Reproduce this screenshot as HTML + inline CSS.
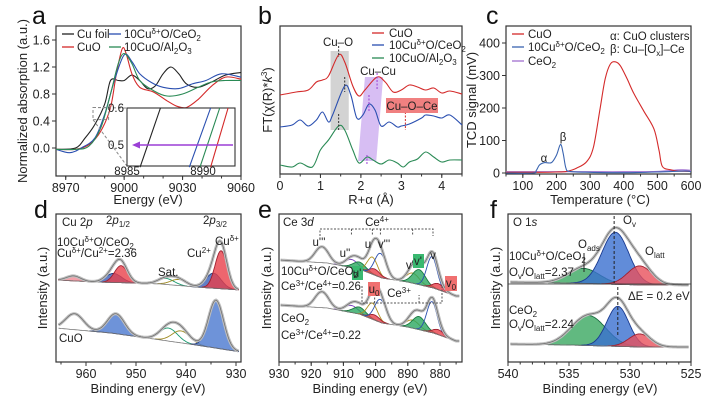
<!DOCTYPE html>
<html><head><meta charset="utf-8"><style>
html,body{margin:0;padding:0;background:#fff;}
svg{display:block;font-family:"Liberation Sans",Arial,sans-serif;}
.tk{font-size:12.5px;fill:#222;}
.ttl{font-size:13px;fill:#222;}
.lg{font-size:11.5px;fill:#222;}
.an{font-size:11.5px;fill:#222;}
.let{font-size:25px;fill:#111;}
</style></head><body>
<svg id="fig" width="708" height="403" viewBox="0 0 708 403">
<text class="let" x="32" y="24">a</text>
<text class="let" x="258" y="24">b</text>
<text class="let" x="486" y="24">c</text>
<text class="let" x="34" y="218">d</text>
<text class="let" x="258" y="218">e</text>
<text class="let" x="490" y="218">f</text>
<text class="ttl" transform="translate(27,101) rotate(-90)" text-anchor="middle">Normalized absorption (a.u.)</text>
<text class="ttl" x="148" y="204" text-anchor="middle">Energy (eV)</text>
<text class="ttl" transform="translate(272,100) rotate(-90)" text-anchor="middle">FT(χ(R)*<tspan font-style="italic">k</tspan><tspan font-size="8" dy="-5">3</tspan><tspan dy="5">)</tspan></text>
<text class="ttl" x="371" y="204" text-anchor="middle">R+α (Å)</text>
<text class="ttl" transform="translate(476,100) rotate(-90)" text-anchor="middle">TCD signal (mV)</text>
<text class="ttl" x="600" y="204" text-anchor="middle">Temperature (°C)</text>
<text class="ttl" transform="translate(47,288) rotate(-90)" text-anchor="middle">Intensity (a.u.)</text>
<text class="ttl" x="148" y="393" text-anchor="middle">Binding energy (eV)</text>
<text class="ttl" transform="translate(271,288) rotate(-90)" text-anchor="middle">Intensity (a.u.)</text>
<text class="ttl" x="370" y="393" text-anchor="middle">Binding energy (eV)</text>
<text class="ttl" transform="translate(500,288) rotate(-90)" text-anchor="middle">Intensity (a.u.)</text>
<text class="ttl" x="600" y="393" text-anchor="middle">Binding energy (eV)</text>
</svg>
<script>
// ---------- data ----------
const aCuFoilE=[8965,8975,8980,8985,8990,8993,8997,9000,9004,9008,9012,9016,9020,9024,9028,9032,9038,9045,9052,9060];
const aCuFoilV=[-0.02,0.0,0.15,0.35,0.65,1.0,1.0,1.0,1.08,1.0,0.88,0.92,1.1,1.2,1.1,0.95,0.9,0.98,1.08,1.12];
const aCuOE=[8965,8975,8982,8988,8993,8996,8999,9001,9004,9008,9015,9022,9027,9032,9038,9045,9052,9060];
const aCuOV=[-0.02,-0.02,0.05,0.25,0.6,1.1,1.47,1.4,1.1,0.9,0.83,0.7,0.62,0.6,0.72,0.92,1.05,1.02];
const aCeE=[8965,8972,8978,8985,8990,8995,9000,9004,9008,9014,9020,9028,9035,9042,9050,9060];
const aCeV=[-0.02,-0.07,0.0,0.15,0.5,1.0,1.38,1.28,1.1,0.97,0.9,0.88,0.95,1.0,1.1,1.05];
const aAlE=[8965,8975,8982,8988,8993,8997,9000,9004,9008,9015,9022,9030,9038,9045,9052,9060];
const aAlV=[-0.02,-0.02,0.03,0.3,0.8,1.25,1.4,1.25,1.0,0.85,0.77,0.8,0.9,0.98,1.0,1.0];
const aTicks=[0.0,0.4,0.8,1.2,1.6];
const aXTicks=[8970,9000,9030,9060];
const insetE0=[8985.86,8989.1,8989.8,8990.5];
const insetE1=[8987.2,8990.5,8991.1,8991.65];
const bR1=[0,0.4,0.7,0.9,1.05,1.2,1.45,1.6,1.8,1.95,2.1,2.4,2.6,2.8,3.0,3.2,3.4,3.6,3.8,4.0,4.2,4.5];
const bCuO=[79,82,84,92,94,98,119,112,88,78,84,97,92,82,84,89,87,84,86,81,83,80];
const bR2=[0,0.3,0.5,0.7,0.9,1.05,1.2,1.3,1.6,1.75,1.9,2.05,2.2,2.35,2.5,2.7,2.9,3.0,3.2,3.5,3.6,3.8,4.0,4.2,4.5];
const bCe=[47,49,54,48,54,62,52,59,88,79,56,59,70,64,48,52,47,48,50,56,59,58,56,59,49];
const bR3=[0,0.3,0.5,0.8,1.0,1.2,1.45,1.6,1.8,1.95,2.15,2.3,2.5,2.7,2.9,3.05,3.2,3.4,3.6,3.8,4.0,4.2,4.5];
const bAl=[9,7,11,7,24,34,48,44,24,11,17,14,10,14,11,7,12,15,22,17,12,14,14];
const bXTicks=[0,1,2,3,4];
const cCuOT=[50,150,200,230,260,290,310,330,345,360,375,390,410,430,460,490,505,515,540,560,600];
const cCuOV=[2,2,3,5,15,35,80,200,290,335,342,330,290,245,190,135,70,20,10,6,5];
const cCeT=[50,130,140,150,165,185,200,212,220,228,240,300,400,500,580,600];
const cCeV=[0,0,8,25,32,32,55,88,60,15,5,2,1,3,6,4];
const cPT=[50,200,300,400,500,570,600];
const cPV=[4,4,4,4,5,10,8];
const cXTicks=[100,200,300,400,500,600];
const cYTicks=[0,100,200,300,400];
const dTopBgE=[966,958,950,945,938,929];
const dTopBgV=[82,80,79,78,75,72];
const dTopC=[962.5,954.5,953,944,941.5,934.5,933];
const dTopH=[5,9,17,6,6,15,38];
const dTopW=[1.4,1.6,1.3,1.6,1.6,1.5,1.2];
const dBotBgE=[966,955,945,938,929];
const dBotBgV=[34,29,22,17,10];
const dBotC=[962.3,954,943.5,941,934];
const dBotH=[16,20,13,12,48];
const dBotW=[1.8,1.7,1.8,1.8,1.5];
const dXTicks=[960,950,940,930];
const eTopBgE=[930,915,905,898,890,882,875];
const eTopBgV=[102,99,93,84,80,74,66];
const eBotBgV=[57,54,48,39,35,29,21];
const eC=[916.7,907.5,905,901,900.3,898.5,888.5,886.5,882.5,880.5];
const eTopH=[16,8,7,17,6,24,10,15,31,6];
const eBotH=[16,7,7,16,5,23,8,13,31,5];
const eW=[2.1,2.0,2.0,1.6,1.7,1.8,2.0,2.0,1.6,1.7];
const eXTicks=[930,920,910,900,890,880];
const fBgE=[540,535,532,529,525];
const fTopBgV=[80,79,78,77,77];
const fBotBgV=[18,17,16,15,15];
const fTopC=[533.8,531.2,529.2];
const fTopH=[15,52,19];
const fTopW=[1.3,1.1,1.0];
const fBotC=[533.4,531.0,529.2];
const fBotH=[30,40,13];
const fBotW=[1.4,0.9,0.9];
const fXTicks=[540,535,530,525];

// ---------- helpers ----------
const NS='http://www.w3.org/2000/svg';
const svg=document.getElementById('fig');
function mk(tag,attrs,txt){const e=document.createElementNS(NS,tag);for(const k in attrs)e.setAttribute(k,attrs[k]);if(txt!==undefined)e.textContent=txt;svg.appendChild(e);return e;}
function lin(d0,d1,r0,r1){return v=>r0+(v-d0)*(r1-r0)/(d1-d0);}
function smooth(pts){let d='M'+pts[0][0].toFixed(1)+','+pts[0][1].toFixed(1);
 for(let i=0;i<pts.length-1;i++){const p0=pts[i-1]||pts[i],p1=pts[i],p2=pts[i+1],p3=pts[i+2]||p2;
  const c1=[p1[0]+(p2[0]-p0[0])/6,p1[1]+(p2[1]-p0[1])/6],c2=[p2[0]-(p3[0]-p1[0])/6,p2[1]-(p3[1]-p1[1])/6];
  d+='C'+c1[0].toFixed(1)+','+c1[1].toFixed(1)+' '+c2[0].toFixed(1)+','+c2[1].toFixed(1)+' '+p2[0].toFixed(1)+','+p2[1].toFixed(1);}
 return d;}
function curve(xs,ys,sx,sy){return smooth(xs.map((x,i)=>[sx(x),sy(ys[i])]));}
function interp(xs,ys,x){for(let i=0;i<xs.length-1;i++){const a=xs[i],b=xs[i+1];if((x-a)*(x-b)<=0){return ys[i]+(ys[i+1]-ys[i])*(x-a)/(b-a);}}return x<Math.min(xs[0],xs[xs.length-1])?ys[xs[0]<xs[1]?0:ys.length-1]:ys[xs[0]<xs[1]?ys.length-1:0];}
function gauss(E,c,h,w){return h*Math.exp(-(E-c)*(E-c)/(2*w*w));}
function frame(name,x0,y0,x1,y1){const r=mk('rect',{x:x0,y:y0,width:x1-x0,height:y1-y0,fill:'none',stroke:'#333','stroke-width':1.2});
 
 }
function xticks(name,vals,sx,y1,minorStep,lo,hi){vals.forEach(v=>{const x=sx(v);const t=mk('line',{x1:x,x2:x,y1:y1,y2:y1+4,stroke:'#333'});
  
  
  const l=mk('text',{x:x,y:y1+16,'text-anchor':'middle',class:'tk'},String(v));
  
  });
 if(minorStep){for(let v=lo;v<=hi+1e-9;v+=minorStep){const x=sx(v);const m=mk('line',{x1:x,x2:x,y1:y1,y2:y1+2.5,stroke:'#333'});
  
  }}}
function yticks(name,vals,sy,x0,fmt){vals.forEach(v=>{const y=sy(v);const t=mk('line',{x1:x0-4,x2:x0,y1:y,y2:y,stroke:'#333'});
  
  
  const l=mk('text',{x:x0-6,y:y+4.5,'text-anchor':'end',class:'tk'},fmt(v));
  
  });}
function series(name,xs,ys,sx,sy,color,w){const p=mk('path',{d:curve(xs,ys,sx,sy),fill:'none',stroke:color,'stroke-width':w||1.1});
 
 return p;}
function txt(name,x,y,s,attrs){const t=mk('text',Object.assign({x:x,y:y,class:'an'},attrs||{}));t.innerHTML=s;
 
 return t;}
function legLine(name,x,y,color){const l=mk('line',{x1:x,x2:x+12,y1:y,y2:y,stroke:color,'stroke-width':1.3});
 
 }
function spectrum(name,E0,E1,bgE,bgV,C,H,W,fills,strokes,sx,sy,step){
 const Es=[];for(let E=E0;E>=E1-1e-9;E-=step)Es.push(E);
 C.forEach((c,i)=>{const top=[],bot=[];Es.forEach(E=>{const b=interp(bgE,bgV,E);const g=gauss(E,c,H[i],W[i]);if(g>0.15){top.push([sx(E),sy(b+g)]);bot.push([sx(E),sy(b)]);}});
  if(top.length<2)return;
  let d='M'+top.map(p=>p[0].toFixed(1)+','+p[1].toFixed(1)).join('L');
  if(fills[i]!=='none'){d+='L'+bot.reverse().map(p=>p[0].toFixed(1)+','+p[1].toFixed(1)).join('L')+'Z';}
  const p=mk('path',{d:d,fill:fills[i],'fill-opacity':0.8,stroke:strokes[i],'stroke-width':0.9});
  
  });
 const bgp=mk('path',{d:'M'+Es.map(E=>sx(E).toFixed(1)+','+sy(interp(bgE,bgV,E)).toFixed(1)).join('L'),fill:'none',stroke:'#777','stroke-width':0.8});
 
 
 const env=Es.map(E=>{let v=interp(bgE,bgV,E);C.forEach((c,i)=>v+=gauss(E,c,H[i],W[i]));return [sx(E),sy(v)];});
 const ed='M'+env.map(p=>p[0].toFixed(1)+','+p[1].toFixed(1)).join('L');
 const e1=mk('path',{d:ed,fill:'none',stroke:'#bdbdbd','stroke-width':3});
 
 
 const e2=mk('path',{d:ed,fill:'none',stroke:'#6a6a6a','stroke-width':0.7});
 
 }

// ---------- panel a ----------
{const sx=lin(8965,9060,56,241),sy=lin(0,1.6,148,40);
 frame('plot-frame-a',56,26,241,176);
 xticks('x-axis-a',aXTicks,sx,176,10,8970,9060);
 yticks('y-axis-a',aTicks,sy,56,v=>v.toFixed(1));
 series('cu-foil-line',aCuFoilE,aCuFoilV,sx,sy,'#222');
 series('cuo-line',aCuOE,aCuOV,sx,sy,'#d42a2a');
 series('cu-ceo2-line',aCeE,aCeV,sx,sy,'#2a4fb0');
 series('cuo-al2o3-line',aAlE,aAlV,sx,sy,'#2a8a55');
 const zr=mk('rect',{x:sx(8984),y:sy(0.6),width:sx(8992)-sx(8984),height:sy(0.42)-sy(0.6),fill:'none',stroke:'#888','stroke-dasharray':'3,2'});
 
 
 const z1=mk('line',{x1:sx(8984),y1:sy(0.6),x2:127,y2:108,stroke:'#888','stroke-dasharray':'3,2'});
 
 
 const z2=mk('line',{x1:sx(8984),y1:sy(0.42),x2:127,y2:166,stroke:'#888','stroke-dasharray':'3,2'});
 
 
 const ix=lin(8985,8990,127,203),iy=lin(0.5,0.6,145,108);
 const ib=mk('rect',{x:127,y:108,width:108,height:58,fill:'#fff',stroke:'#333','stroke-width':1.1});
 
 
 const icol=['#222','#2a4fb0','#2a8a55','#d42a2a'];
 insetE0.forEach((e0,i)=>{const l=mk('line',{x1:ix(e0),y1:iy(0.44),x2:ix(insetE1[i]),y2:iy(0.6),stroke:icol[i],'stroke-width':1.1});
  
  });
 const ar=mk('line',{x1:233,y1:iy(0.5),x2:137,y2:iy(0.5),stroke:'#9b3fd6','stroke-width':1.6});
 
 
 const ah=mk('polygon',{points:'132,'+iy(0.5)+' 140,'+(iy(0.5)-3.5)+' 140,'+(iy(0.5)+3.5),fill:'#9b3fd6'});
 
 
 txt('inset-y-label',124,112,'0.6',{'text-anchor':'end'});
 txt('inset-y-label',124,149,'0.5',{'text-anchor':'end'});
 txt('inset-x-label',127,175,'8985',{'text-anchor':'middle'});
 txt('inset-x-label',203,175,'8990',{'text-anchor':'middle'});
 legLine('legend-swatch-cu-foil',62,34,'#222');txt('legend-cu-foil',77,38,'Cu foil');
 legLine('legend-swatch-cuo',62,47,'#d42a2a');txt('legend-cuo',77,51,'CuO');
 legLine('legend-swatch-cu-ceo2',109,34,'#2a4fb0');txt('legend-cu-ceo2',124,38,'10Cu<tspan font-size="8" dy="-4">δ+</tspan><tspan dy="4">O/CeO</tspan><tspan font-size="8" dy="3">2</tspan>');
 legLine('legend-swatch-cuo-al2o3',109,47,'#2a8a55');txt('legend-cuo-al2o3',124,51,'10CuO/Al<tspan font-size="8" dy="3">2</tspan><tspan dy="-3">O</tspan><tspan font-size="8" dy="3">3</tspan>');
}
// ---------- panel b ----------
{const sx=lin(0,4.5,280,462),sy=v=>174-v;
 const gb=mk('rect',{x:sx(1.25),y:51,width:sx(1.7)-sx(1.25),height:79,fill:'#c8c8c8','fill-opacity':0.8});
 
 
 const pb=mk('polygon',{points:sx(2.1)+',77 '+sx(2.55)+',77 '+sx(2.38)+',161 '+sx(1.93)+',161',fill:'#c9a8ef','fill-opacity':0.75});
 
 
 frame('plot-frame-b',280,26,462,174);
 xticks('x-axis-b',bXTicks,sx,174,0.5,0,4.5);
 series('cuo-ft-line',bR1,bCuO,sx,sy,'#d42a2a');
 series('cu-ceo2-ft-line',bR2,bCe,sx,sy,'#2a4fb0');
 series('cuo-al2o3-ft-line',bR3,bAl,sx,sy,'#2a8a55');
 const dl=[[1.45,46,57,'#333'],[1.6,77,92,'#333'],[1.45,114,130,'#333'],[2.4,73,90,'#9b3fd6'],[2.2,95,112,'#9b3fd6'],[2.15,155,165,'#9b3fd6'],[3.1,112,130,'#d42a2a']];
 dl.forEach(d=>{const l=mk('line',{x1:sx(d[0]),x2:sx(d[0]),y1:d[1],y2:d[2],stroke:d[3],'stroke-dasharray':'2,1.5'});
  
  });
 const rb=mk('rect',{x:386,y:98,width:52,height:15,fill:'#f08080'});
 
 
 txt('cu-o-ce-label',412,110,'Cu–O–Ce',{'text-anchor':'middle'});
 txt('cu-o-label',338,46,'Cu–O',{'text-anchor':'middle'});
 txt('cu-cu-label',378,75,'Cu–Cu',{'text-anchor':'middle',fill:'#9b3fd6'});
 legLine('legend-swatch-b-cuo',372,33,'#d42a2a');txt('legend-b-cuo',389,37,'CuO');
 legLine('legend-swatch-b-cu-ceo2',372,45,'#2a4fb0');txt('legend-b-cu-ceo2',389,49,'10Cu<tspan font-size="8" dy="-4">δ+</tspan><tspan dy="4">O/CeO</tspan><tspan font-size="8" dy="3">2</tspan>');
 legLine('legend-swatch-b-cuo-al2o3',372,58,'#2a8a55');txt('legend-b-cuo-al2o3',389,62,'10CuO/Al<tspan font-size="8" dy="3">2</tspan><tspan dy="-3">O</tspan><tspan font-size="8" dy="3">3</tspan>');
}
// ---------- panel c ----------
{const sx=lin(50,600,506,691),sy=lin(0,400,173,43);
 frame('plot-frame-c',506,26,691,174);
 xticks('x-axis-c',cXTicks,sx,174,50,50,600);
 yticks('y-axis-c',cYTicks,sy,506,v=>String(v));
 series('ceo2-tpr-line',cPT,cPV,sx,sy,'#a070d0');
 series('cuo-tpr-line',cCuOT,cCuOV,sx,sy,'#d42a2a');
 series('cu-ceo2-tpr-line',cCeT,cCeV,sx,sy,'#3a64b0');
 txt('alpha-label',544,162,'α',{'text-anchor':'middle'});
 txt('beta-label',563,141,'β',{'text-anchor':'middle'});
 legLine('legend-swatch-c-cuo',512,34,'#d42a2a');txt('legend-c-cuo',528,38,'CuO');
 legLine('legend-swatch-c-cu-ceo2',512,47,'#3a64b0');txt('legend-c-cu-ceo2',528,51,'10Cu<tspan font-size="8" dy="-4">δ+</tspan><tspan dy="4">O/CeO</tspan><tspan font-size="8" dy="3">2</tspan>');
 legLine('legend-swatch-c-ceo2',512,61,'#a070d0');txt('legend-c-ceo2',528,65,'CeO<tspan font-size="8" dy="3">2</tspan>');
 txt('alpha-definition',610,40,'α: CuO clusters');
 txt('beta-definition',610,53,'β: Cu–[O<tspan font-size="8" dy="3">x</tspan><tspan dy="-3">]–Ce</tspan>');
}
// ---------- panel d ----------
{const sx=lin(966,929,56,241),sy=v=>362-v;
 spectrum('d-cu-ceo2',965.5,929.5,dTopBgE,dTopBgV,dTopC,dTopH,dTopW,['#f08a95','#3a5fb8','#e8404a','none','none','#3a5fb8','#e8404a'],['#b04050','#203a80','#a02030','#1a9a70','#a08a20','#203a80','#a02030'],sx,sy,0.25);
 spectrum('d-cuo',965.5,929.5,dBotBgE,dBotBgV,dBotC,dBotH,dBotW,['none','#4a78d0','none','none','#4a78d0'],['#444','#203a80','#1a9a70','#a08a20','#203a80'],sx,sy,0.25);
 frame('plot-frame-d',56,214,241,362);
 xticks('x-axis-d',dXTicks,sx,362,5,930,965);
 txt('cu2p-label',62,226,'Cu 2<tspan font-style="italic">p</tspan>');
 txt('2p12-label',106,224,'2<tspan font-style="italic">p</tspan><tspan font-size="8" dy="3">1/2</tspan>');
 txt('2p32-label',203,224,'2<tspan font-style="italic">p</tspan><tspan font-size="8" dy="3">3/2</tspan>');
 txt('d-sample-label',57,246,'10Cu<tspan font-size="8" dy="-4">δ+</tspan><tspan dy="4">O/CeO</tspan><tspan font-size="8" dy="3">2</tspan>');
 txt('d-ratio-label',57,257,'Cu<tspan font-size="8" dy="-4">δ+</tspan><tspan dy="4">/Cu</tspan><tspan font-size="8" dy="-4">2+</tspan><tspan dy="4">=2.36</tspan>');
 txt('sat-label',158,276,'Sat.');
 txt('cu2plus-label',187,257,'Cu<tspan font-size="8" dy="-4">2+</tspan>');
 txt('cudelta-label',215,245,'Cu<tspan font-size="8" dy="-4">δ+</tspan>');
 txt('d-cuo-label',59,342,'CuO');
}
// ---------- panel e ----------
{const sx=lin(930,880,279,440),sy=v=>362-v;
 const fl=['none','none','#2aa860','none','#e8404a','none','none','#2aa860','none','#e8404a'];
 const st=['#888','#7a3fc0','#1a7a40','#b09020','#a02030','#2a4fb0','#b09020','#1a7a40','#2a4fb0','#a02030'];
 spectrum('e-cu-ceo2',929.5,874,eTopBgE,eTopBgV,eC,eTopH,eW,fl,st,sx,sy,0.25);
 spectrum('e-ceo2',929.5,874,eTopBgE,eBotBgV,eC,eBotH,eW,fl,st,sx,sy,0.25);
 frame('plot-frame-e',279,214,462,362);
 xticks('x-axis-e',eXTicks,sx,362,5,875,930);
 const br=mk('path',{d:'M320,236V229H433V236M'+sx(907.5)+',229v6M'+sx(901)+',229v6M'+sx(898.5)+',229v6M'+sx(888.5)+',229v6',fill:'none',stroke:'#555','stroke-dasharray':'2,1.5'});
 
 
 const br2=mk('path',{d:'M362,286V303H442V286M'+sx(900.3)+',303v-8M'+sx(886.5)+',303v-8',fill:'none',stroke:'#555','stroke-dasharray':'2,1.5'});
 
 
 txt('ce3d-label',283,226,'Ce 3<tspan font-style="italic">d</tspan>');
 txt('ce4-label',377,226,'Ce<tspan font-size="8" dy="-4">4+</tspan>',{'text-anchor':'middle'});
 txt('u3-label',319,246,"u'''",{fill:'#2a9a80','text-anchor':'middle'});
 txt('u2-label',345,257,"u''",{fill:'#7a3fc0','text-anchor':'middle'});
 txt('u-label',368,248,'u',{fill:'#b08010','text-anchor':'middle'});
 txt('v3-label',384,248,"v'''",{fill:'#2a4fb0','text-anchor':'middle'});
 const b1=mk('rect',{x:352,y:266,width:11,height:14,fill:'#3ab870'});
 txt('u1-label',357,277,"u'",{'text-anchor':'middle'});
 const b2=mk('rect',{x:368,y:282,width:12,height:14,fill:'#f07070'});
 txt('u0-label',374,293,'u<tspan font-size="8" dy="3">0</tspan>',{'text-anchor':'middle'});
 txt('ce3-label',399,297,'Ce<tspan font-size="8" dy="-4">3+</tspan>',{'text-anchor':'middle'});
 txt('v2-label',411,269,"v''",{fill:'#b08010','text-anchor':'middle'});
 const b3=mk('rect',{x:413,y:254,width:11,height:14,fill:'#3ab870'});
 txt('v1-label',418,265,"v'",{'text-anchor':'middle'});
 txt('v-label',433,259,'v',{fill:'#2a4fb0','text-anchor':'middle'});
 const b4=mk('rect',{x:445,y:276,width:12,height:15,fill:'#f07070'});
 txt('v0-label',451,287,'v<tspan font-size="8" dy="3">0</tspan>',{'text-anchor':'middle'});
 txt('e-sample-label',281,275,'10Cu<tspan font-size="8" dy="-4">δ+</tspan><tspan dy="4">O/CeO</tspan><tspan font-size="8" dy="3">2</tspan>');
 txt('e-ratio-label',281,290,'Ce<tspan font-size="8" dy="-4">3+</tspan><tspan dy="4">/Ce</tspan><tspan font-size="8" dy="-4">4+</tspan><tspan dy="4">=0.26</tspan>');
 txt('e-ceo2-label',281,322,'CeO<tspan font-size="8" dy="3">2</tspan>');
 txt('e-ceo2-ratio-label',281,339,'Ce<tspan font-size="8" dy="-4">3+</tspan><tspan dy="4">/Ce</tspan><tspan font-size="8" dy="-4">4+</tspan><tspan dy="4">=0.22</tspan>');
}
// ---------- panel f ----------
{const sx=lin(540,525,508,691),sy=v=>362-v;
 spectrum('f-cu-ceo2',539.8,525.2,fBgE,fTopBgV,fTopC,fTopH,fTopW,['#3aa860','#3a6fd0','#e8505b'],['#1a6a40','#1a3a90','#a02030'],sx,sy,0.05);
 spectrum('f-ceo2',539.8,525.2,fBgE,fBotBgV,fBotC,fBotH,fBotW,['#3aa860','#3a6fd0','#e8505b'],['#1a6a40','#1a3a90','#a02030'],sx,sy,0.05);
 frame('plot-frame-f',508,214,691,362);
 const sep=mk('line',{x1:508,x2:691,y1:284,y2:284,stroke:'#333','stroke-width':0.8});
 
 
 xticks('x-axis-f',fXTicks,sx,362,1,525,540);
 [[531.3,216,283],[531.0,287,336]].forEach(d=>{const l=mk('line',{x1:sx(d[0]),x2:sx(d[0]),y1:d[1],y2:d[2],stroke:'#222','stroke-dasharray':'3,2'});
  
  });
 txt('o1s-label',513,226,'O 1<tspan font-style="italic">s</tspan>');
 txt('ov-label',623,224,'O<tspan font-size="8" dy="3">v</tspan>');
 txt('oads-label',578,248,'O<tspan font-size="8" dy="3">ads</tspan>');
 txt('olatt-label',645,255,'O<tspan font-size="8" dy="3">latt</tspan>');
 const ar=mk('line',{x1:584,y1:272,x2:584,y2:253,stroke:'#222'});
 txt('f-sample-label',509,260,'10Cu<tspan font-size="8" dy="-4">δ+</tspan><tspan dy="4">O/CeO</tspan><tspan font-size="8" dy="3">2</tspan>');
 txt('f-ratio-label',509,276,'O<tspan font-size="8" dy="3">v</tspan><tspan dy="-3">/O</tspan><tspan font-size="8" dy="3">latt</tspan><tspan dy="-3">=2.37</tspan>');
 txt('delta-e-label',628,300,'ΔE = 0.2 eV');
 txt('f-ceo2-label',509,314,'CeO<tspan font-size="8" dy="3">2</tspan>');
 txt('f-ceo2-ratio-label',509,328,'O<tspan font-size="8" dy="3">v</tspan><tspan dy="-3">/O</tspan><tspan font-size="8" dy="3">latt</tspan><tspan dy="-3">=2.24</tspan>');
}
</script>
</body></html>
